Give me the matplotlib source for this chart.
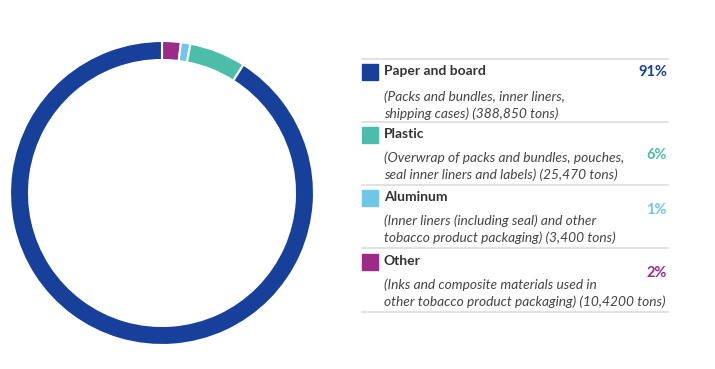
import matplotlib.pyplot as plt

plt.rcParams['font.family'] = ['Lato', 'DejaVu Sans']

# slices drawn clockwise from 12 o'clock
slice_names = ['Other', 'Aluminum', 'Plastic', 'Paper and board']
slice_pcts = [2, 1, 6, 91]
slice_colors = ['#9c2a87', '#6ec6e8', '#4cbda8', '#16409a']

# legend rows (top to bottom)
leg_titles = ['Paper and board', 'Plastic', 'Aluminum', 'Other']
leg_desc = [
    ['(Packs and bundles, inner liners,', 'shipping cases) (388,850 tons)'],
    ['(Overwrap of packs and bundles, pouches,', 'seal inner liners and labels) (25,470 tons)'],
    ['(Inner liners (including seal) and other', 'tobacco product packaging) (3,400 tons)'],
    ['(Inks and composite materials used in', 'other tobacco product packaging) (10,4200 tons)'],
]
leg_pcts = ['91%', '6%', '1%', '2%']
leg_colors = ['#16409a', '#4cbda8', '#6ec6e8', '#9c2a87']

W, H = 715, 369
fig = plt.figure(figsize=(W / 100, H / 100), dpi=100)

# donut
cx, cy, r = 162, 193, 152
ax = fig.add_axes([(cx - r) / W, 1 - (cy + r) / H, 2 * r / W, 2 * r / H])
ax.pie(slice_pcts, colors=slice_colors, startangle=90, counterclock=False,
       radius=1.0, wedgeprops=dict(width=0.125, edgecolor='white', linewidth=1.5))
ax.set_aspect('equal')
ax.set_xlim(-1, 1)
ax.set_ylim(-1, 1)

# legend panel in pixel coordinates
lx = fig.add_axes([0, 0, 1, 1])
lx.set_xlim(0, W)
lx.set_ylim(H, 0)
lx.axis('off')

sep_y = [59, 122, 185, 248, 312]
title_y = [72, 135, 198, 262]
desc_y = [97, 158, 221, 285]
pct_y = [72, 155, 210, 273]

for y in sep_y:
    lx.plot([362, 668], [y, y], color='#dddddd', lw=1.2)

for i in range(4):
    lx.add_patch(plt.Rectangle((362, title_y[i] - 8), 16, 16, color=leg_colors[i]))
    lx.text(384, title_y[i] - 1, leg_titles[i], fontsize=10, fontweight='bold',
            color='#333333', va='center')
    for j, line in enumerate(leg_desc[i]):
        lx.text(384, desc_y[i] + 17 * j, line, fontsize=9.95, style='italic',
                color='#444444', va='center')
    lx.text(667, pct_y[i], leg_pcts[i], fontsize=10.5, fontweight='bold',
            color=leg_colors[i], ha='right', va='center')

fig.savefig('out.png', dpi=100)
